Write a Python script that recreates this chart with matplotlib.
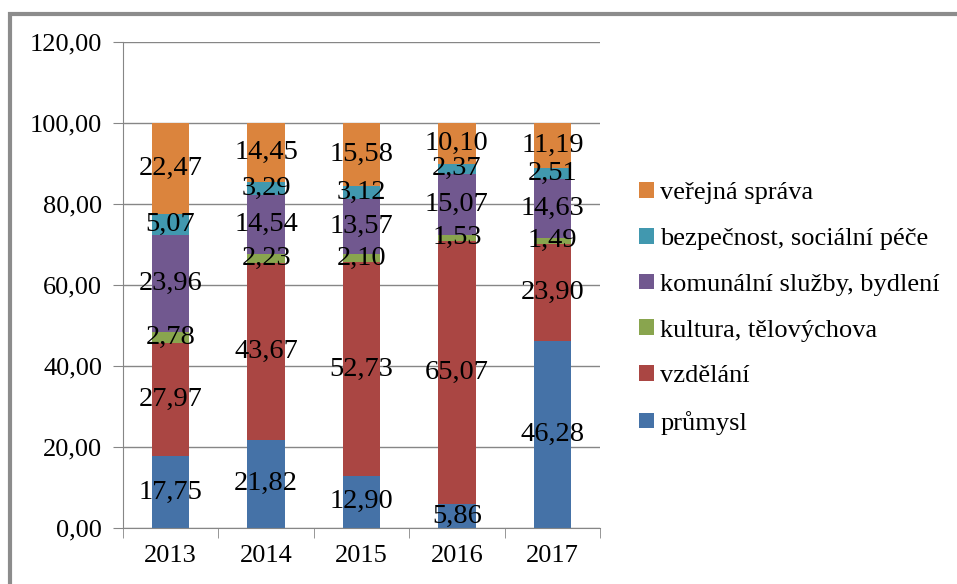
import matplotlib.pyplot as plt
from matplotlib.patches import Rectangle
import numpy as np

plt.rcParams['font.family'] = ['Liberation Serif', 'DejaVu Serif']

years = ["2013", "2014", "2015", "2016", "2017"]
categories = ["průmysl", "vzdělání", "kultura, tělovýchova",
              "komunální služby, bydlení", "bezpečnost, sociální péče",
              "veřejná správa"]
prumysl = [17.75, 21.82, 12.90, 5.86, 46.28]
vzdelani = [27.97, 43.67, 52.73, 65.07, 23.90]
kultura = [2.78, 2.23, 2.10, 1.53, 1.49]
komunalni = [23.96, 14.54, 13.57, 15.07, 14.63]
bezpecnost = [5.07, 3.29, 3.12, 2.37, 2.51]
verejna = [22.47, 14.45, 15.58, 10.10, 11.19]
colors = ["#4572A7", "#AA4643", "#89A54E", "#71588F", "#4198AF", "#DB843D"]

series = [prumysl, vzdelani, kultura, komunalni, bezpecnost, verejna]

fig = plt.figure(figsize=(9.57, 5.84), dpi=100)
ax = fig.add_axes([0.1285, 0.0959, 0.4985, 0.832])

# outer frame like the excel chart border
fig.patches.append(Rectangle((10 / 957, -0.05), 1.2, 0.976 + 0.05,
                             transform=fig.transFigure, fill=False,
                             edgecolor="#8c8c8c", linewidth=3, zorder=0))

x = np.arange(len(years))
bottom = np.zeros(len(years))
handles = []
for vals, name, col in zip(series, categories, colors):
    vals = np.array(vals)
    b = ax.bar(x, vals, 0.39, bottom=bottom, color=col, label=name, zorder=2)
    handles.append(b)
    for xi, v, bt in zip(x, vals, bottom):
        ax.text(xi, bt + v / 2, f"{v:.2f}".replace(".", ","), ha="center",
                va="center", fontsize=20.5, color="black", zorder=3)
    bottom += vals

ax.set_xlim(-0.5, len(years) - 0.5)
ax.set_ylim(0, 120)
ax.set_yticks(np.arange(0, 121, 20))
ax.set_yticklabels([f"{v:.2f}".replace(".", ",") for v in np.arange(0, 121, 20)],
                   fontsize=19)
ax.set_xticks(x)
ax.set_xticklabels(years, fontsize=19)
ax.set_xticks(np.arange(-0.5, len(years)), minor=True)
ax.tick_params(axis="x", which="major", length=0, pad=12)
ax.tick_params(axis="x", which="minor", length=7, color="#868686")
ax.tick_params(axis="y", length=7, color="#868686", pad=8)
ax.grid(axis="y", color="#868686", linewidth=1, zorder=0)
for s in ["top", "right"]:
    ax.spines[s].set_visible(False)
ax.spines["left"].set_color("#868686")
ax.spines["bottom"].set_color("#868686")

leg = fig.legend(handles[::-1], categories[::-1], loc="upper left",
                 bbox_to_anchor=(0.643, 0.729), frameon=False, fontsize=19,
                 handlelength=0.55, handleheight=0.55, handletextpad=0.25,
                 labelspacing=0.89, borderpad=0.4)

fig.savefig("out.png", dpi=100)
